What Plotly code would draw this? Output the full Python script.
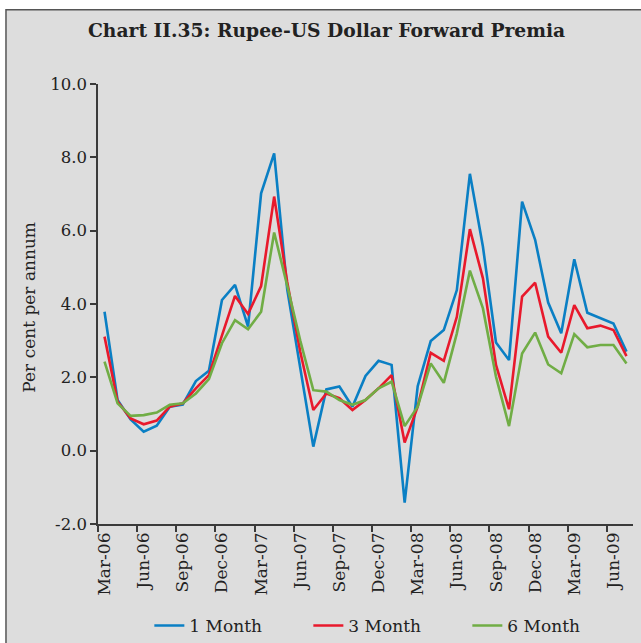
import plotly.graph_objects as go

# Monthly observations, Mar-06 .. Jul-09
months = [
    "Mar-06", "Apr-06", "May-06", "Jun-06", "Jul-06", "Aug-06", "Sep-06", "Oct-06", "Nov-06",
    "Dec-06", "Jan-07", "Feb-07", "Mar-07", "Apr-07", "May-07", "Jun-07", "Jul-07", "Aug-07",
    "Sep-07", "Oct-07", "Nov-07", "Dec-07", "Jan-08", "Feb-08", "Mar-08", "Apr-08", "May-08",
    "Jun-08", "Jul-08", "Aug-08", "Sep-08", "Oct-08", "Nov-08", "Dec-08", "Jan-09", "Feb-09",
    "Mar-09", "Apr-09", "May-09", "Jun-09", "Jul-09",
]

one_month = [
    3.79, 1.38, 0.85, 0.52, 0.68, 1.20, 1.26, 1.90, 2.18, 4.11, 4.52, 3.38, 7.02, 8.11,
    4.40, 2.20, 0.11, 1.67, 1.75, 1.20, 2.04, 2.45, 2.34, -1.42, 1.76, 2.99, 3.29, 4.38,
    7.55, 5.56, 2.95, 2.47, 6.79, 5.75, 4.04, 3.20, 5.22, 3.76, 3.61, 3.47, 2.70,
]
three_month = [
    3.11, 1.34, 0.88, 0.72, 0.82, 1.20, 1.29, 1.70, 2.06, 3.11, 4.22, 3.73, 4.49, 6.93,
    4.60, 2.70, 1.11, 1.56, 1.43, 1.11, 1.38, 1.70, 2.06, 0.22, 1.20, 2.67, 2.45, 3.65,
    6.04, 4.70, 2.34, 1.13, 4.20, 4.58, 3.11, 2.67, 3.97, 3.34, 3.41, 3.29, 2.58,
]
six_month = [
    2.43, 1.29, 0.95, 0.97, 1.04, 1.25, 1.29, 1.56, 1.95, 2.93, 3.56, 3.31, 3.79, 5.95,
    4.50, 3.00, 1.65, 1.61, 1.38, 1.25, 1.38, 1.70, 1.88, 0.67, 1.20, 2.38, 1.85, 3.20,
    4.91, 3.88, 2.02, 0.67, 2.65, 3.22, 2.35, 2.11, 3.18, 2.82, 2.88, 2.88, 2.38,
]

y_ticks = [-2, 0, 2, 4, 6, 8, 10]
y_tick_text = ["-2.0", "0.0", "2.0", "4.0", "6.0", "8.0", "10.0"]

series = [
    ("1 Month", one_month, "#0a7fc4"),
    ("3 Month", three_month, "#e8192c"),
    ("6 Month", six_month, "#70ad45"),
]

FONT = "DejaVu Serif"
AXIS = "#3a3a3a"

fig = go.Figure()
for name, vals, color in series:
    fig.add_trace(go.Scatter(
        x=months, y=vals, name=name, mode="lines",
        line=dict(color=color, width=2.6),
    ))

fig.update_layout(
    width=641, height=643,
    margin=dict(l=98, r=8, t=84, b=119),
    paper_bgcolor="white",
    plot_bgcolor="rgba(0,0,0,0)",
    font=dict(family=FONT, size=16, color="#222"),
    showlegend=True,
    legend=dict(
        orientation="h",
        xref="container", x=0.233, xanchor="left",
        yref="container", y=0.0264, yanchor="middle",
        font=dict(family=FONT, size=17, color="#222"),
        entrywidth=114, entrywidthmode="pixels",
        bgcolor="rgba(0,0,0,0)",
    ),
    shapes=[dict(
        type="rect", xref="paper", yref="paper", layer="below",
        x0=-0.172, x1=1.03, y0=-0.3, y1=1.169,
        fillcolor="#dddddd", line=dict(color="#555", width=1.5),
    )],
    annotations=[
        dict(text="<b>Chart II.35: Rupee-US Dollar Forward Premia</b>",
             xref="paper", yref="paper", x=0.428, y=1.122,
             xanchor="center", yanchor="middle", showarrow=False,
             font=dict(family=FONT, size=18.7, color="#222")),
        dict(text="Per cent per annum", textangle=-90,
             xref="paper", yref="paper", x=-0.129, y=0.494,
             xanchor="center", yanchor="middle", showarrow=False,
             font=dict(family=FONT, size=17, color="#222")),
    ],
)

fig.update_xaxes(
    type="category", range=[-0.5, 40.5], automargin=False,
    tickmode="linear", tick0=0, dtick=3, tickson="boundaries",
    ticks="outside", ticklen=6, tickwidth=1.5, tickcolor=AXIS,
    tickangle=-90, tickfont=dict(family=FONT, size=17, color="#222"),
    showline=True, linecolor=AXIS, linewidth=1.5,
    showgrid=False, zeroline=False,
)
fig.update_yaxes(
    range=[-2, 10], automargin=False,
    tickmode="array", tickvals=y_ticks, ticktext=y_tick_text,
    ticks="outside", ticklen=6, tickwidth=1.5, tickcolor=AXIS,
    tickfont=dict(family=FONT, size=16.5, color="#222"),
    showline=True, linecolor=AXIS, linewidth=1.5,
    showgrid=False, zeroline=False,
)

fig.write_html("out.html")
